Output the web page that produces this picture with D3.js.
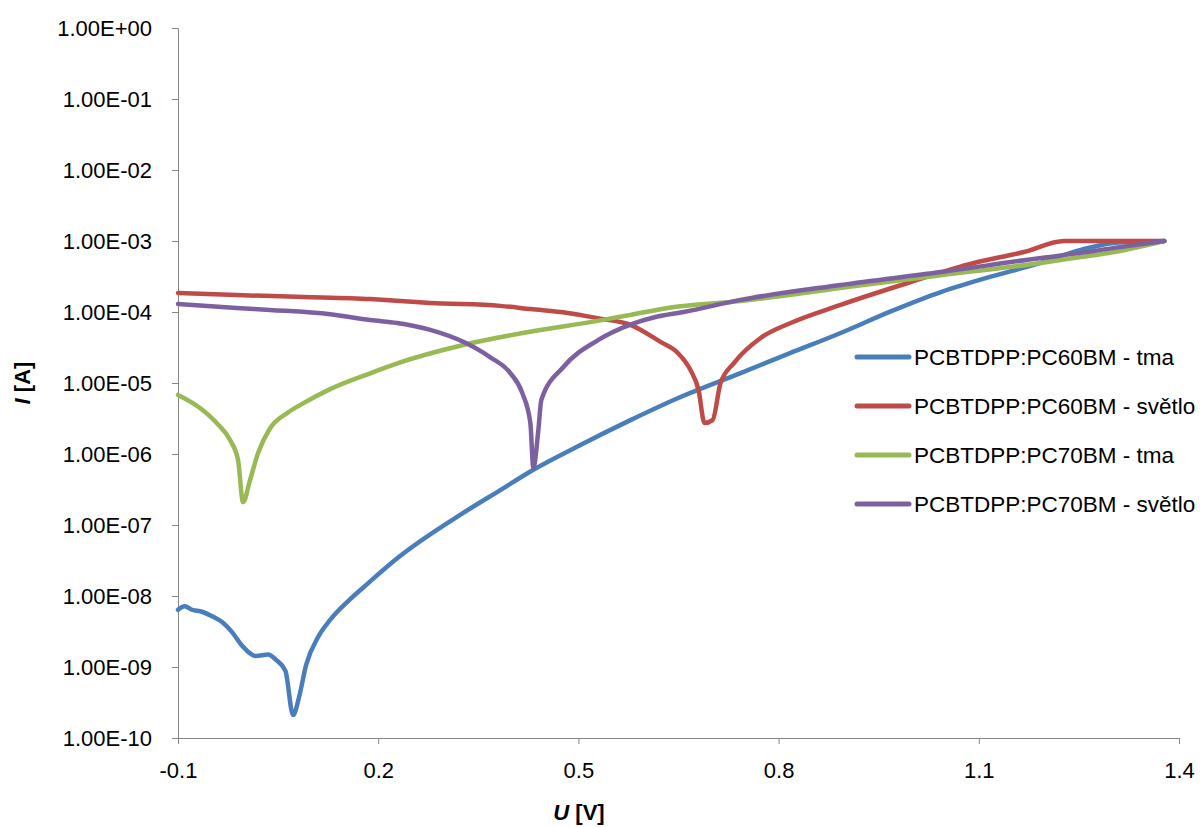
<!DOCTYPE html>
<html>
<head>
<meta charset="utf-8">
<script src="https://cdn.jsdelivr.net/npm/d3@7"></script>
<style>
  body { margin: 0; background: #fff; }
  text { font-family: "Liberation Sans", Arial, sans-serif; fill: #000; }
</style>
</head>
<body>
<svg id="chart" width="1200" height="827"></svg>
<script>
// series names + colours (Excel 2007 defaults)
var seriesNames = ["PCBTDPP:PC60BM - tma", "PCBTDPP:PC60BM - světlo", "PCBTDPP:PC70BM - tma", "PCBTDPP:PC70BM - světlo"];
var seriesColors = ["#4A7EBB", "#BE4B48", "#98B954", "#7D60A0"];

// PC60BM - tma
var pc60tmaU = [-0.100,-0.090,-0.079,-0.064,-0.049,-0.034,-0.019,-0.004,0.017,0.035,0.047,0.061,0.0725,0.0815,0.092,0.110,0.128,0.155,0.180,0.2285,0.3275,0.383,0.4325,0.503,0.578,0.653,0.743,0.818,0.893,0.968,1.043,1.118,1.1825,1.253,1.303,1.378];
var pc60tmaI = [6.4e-9,7.2e-9,6.4e-9,6.0e-9,5.2e-9,4.3e-9,3.1e-9,2.0e-9,1.43e-9,1.5e-9,1.26e-9,8.8e-10,2.1e-10,3.8e-10,1.07e-9,2.65e-9,4.6e-9,8.5e-9,1.38e-8,3.4e-8,1.48e-7,3.1e-7,6.0e-7,1.34e-6,3.0e-6,6.35e-6,1.38e-5,2.65e-5,5.06e-5,1.02e-4,1.91e-4,3.15e-4,4.6e-4,7.5e-4,9.4e-4,1.0e-3];

// PC60BM - světlo
var pc60svU = [-0.100,-0.012,0.088,0.188,0.233,0.278,0.383,0.428,0.484,0.5285,0.578,0.623,0.649,0.668,0.680,0.689,0.701,0.713,0.733,0.773,0.818,0.893,0.9935,1.0925,1.1675,1.228,1.378];
var pc60svI = [1.85e-4,1.73e-4,1.63e-4,1.52e-4,1.43e-4,1.34e-4,1.22e-4,1.10e-4,9.7e-5,8.2e-5,6.6e-5,3.8e-5,2.65e-5,1.52e-5,8.0e-6,2.73e-6,3.0e-6,1.0e-5,1.91e-5,4.3e-5,7.0e-5,1.26e-4,2.56e-4,4.9e-4,7.0e-4,1.0e-3,1.0e-3];

// PC70BM - tma
var pc70tmaU = [-0.100,-0.067,-0.042,-0.022,-0.010,-0.0025,0.008,0.020,0.038,0.064,0.088,0.128,0.188,0.2285,0.3275,0.428,0.5285,0.578,0.634,0.743,0.893,1.043,1.193,1.253,1.303,1.378];
var pc70tmaI = [6.8e-6,4.45e-6,2.73e-6,1.57e-6,8.2e-7,2.1e-7,4.3e-7,1.03e-6,2.3e-6,3.8e-6,5.2e-6,8.2e-6,1.37e-5,1.89e-5,3.43e-5,5.28e-5,7.5e-5,9.1e-5,1.14e-4,1.43e-4,2.18e-4,3.3e-4,4.9e-4,5.95e-4,7.0e-4,1.0e-3];

// PC70BM - světlo
var pc70svU = [-0.100,-0.012,0.038,0.128,0.188,0.2285,0.278,0.3275,0.368,0.398,0.416,0.428,0.4325,0.440,0.4445,0.4775,0.530,0.581,0.6155,0.658,0.743,0.893,1.043,1.193,1.253,1.303,1.378];
var pc70svI = [1.30e-4,1.14e-4,1.07e-4,9.3e-5,7.7e-5,7.0e-5,5.6e-5,3.8e-5,2.3e-5,1.38e-5,7.2e-6,2.73e-6,6.4e-7,2.18e-6,5.8e-6,1.68e-5,4.04e-5,6.8e-5,8.5e-5,1.0e-4,1.48e-4,2.4e-4,3.65e-4,5.77e-4,6.8e-4,8.0e-4,1.0e-3];

var xTicks = [-0.1, 0.2, 0.5, 0.8, 1.1, 1.4];
var yTicks = [1e-10, 1e-9, 1e-8, 1e-7, 1e-6, 1e-5, 1e-4, 1e-3, 1e-2, 1e-1, 1];

var allU = [pc60tmaU, pc60svU, pc70tmaU, pc70svU];
var allI = [pc60tmaI, pc60svI, pc70tmaI, pc70svI];

var plotL = 178, plotR = 1179, plotT = 28, plotB = 738;
var svg = d3.select("#chart");

var x = d3.scaleLinear().domain([-0.1, 1.4]).range([plotL, plotR]);
var y = d3.scaleLog().domain([1e-10, 1]).range([plotB, plotT]);

var axisColor = "#868686";

// y axis
var yAxis = svg.append("g")
  .attr("transform", "translate(" + plotL + ",0)")
  .call(d3.axisLeft(y).tickValues(yTicks).tickSize(6).tickPadding(20)
    .tickFormat(d => {
      var e = Math.round(Math.log10(d));
      var s = Math.abs(e) < 10 ? "0" + Math.abs(e) : "" + Math.abs(e);
      return "1.00E" + (e < 0 ? "-" : "+") + s;
    }));
yAxis.select(".domain").attr("stroke", axisColor);
yAxis.selectAll(".tick line").attr("stroke", axisColor);
yAxis.selectAll(".tick text").style("font-size", "22px").attr("dy", "0.35em");

// x axis
var xAxis = svg.append("g")
  .attr("transform", "translate(0," + plotB + ")")
  .call(d3.axisBottom(x).tickValues(xTicks).tickSize(6).tickPadding(18)
    .tickFormat(d => d.toFixed(1)));
xAxis.select(".domain").attr("stroke", axisColor);
xAxis.selectAll(".tick line").attr("stroke", axisColor);
xAxis.selectAll(".tick text").style("font-size", "22px");

// axis titles
var xt = svg.append("text").attr("x", 579).attr("y", 820)
  .attr("text-anchor", "middle").style("font-size", "22px").style("font-weight", "bold");
xt.append("tspan").style("font-style", "italic").text("U");
xt.append("tspan").text(" [V]");

var yt = svg.append("text").attr("transform", "translate(30,383) rotate(-90)")
  .attr("text-anchor", "middle").style("font-size", "22px").style("font-weight", "bold");
yt.append("tspan").style("font-style", "italic").text("I");
yt.append("tspan").text(" [A]");

// lines
var line = d3.line()
  .x(d => x(d[0]))
  .y(d => y(d[1]))
  .curve(d3.curveMonotoneX);

seriesNames.forEach((name, k) => {
  var pts = allU[k].map((u, i) => [u, allI[k][i]]);
  svg.append("path")
    .datum(pts)
    .attr("fill", "none")
    .attr("stroke", seriesColors[k])
    .attr("stroke-width", 4.5)
    .attr("stroke-linejoin", "round")
    .attr("stroke-linecap", "round")
    .attr("d", line);
});

// legend
var legend = svg.append("g");
var legY = [357, 406, 455, 504];
seriesNames.forEach((name, k) => {
  legend.append("line")
    .attr("x1", 857).attr("x2", 909)
    .attr("y1", legY[k]).attr("y2", legY[k])
    .attr("stroke", seriesColors[k]).attr("stroke-width", 5)
    .attr("stroke-linecap", "round");
  legend.append("text")
    .attr("x", 914).attr("y", legY[k]).attr("dy", "0.35em")
    .style("font-size", "22.5px")
    .text(name);
});
</script>
</body>
</html>
